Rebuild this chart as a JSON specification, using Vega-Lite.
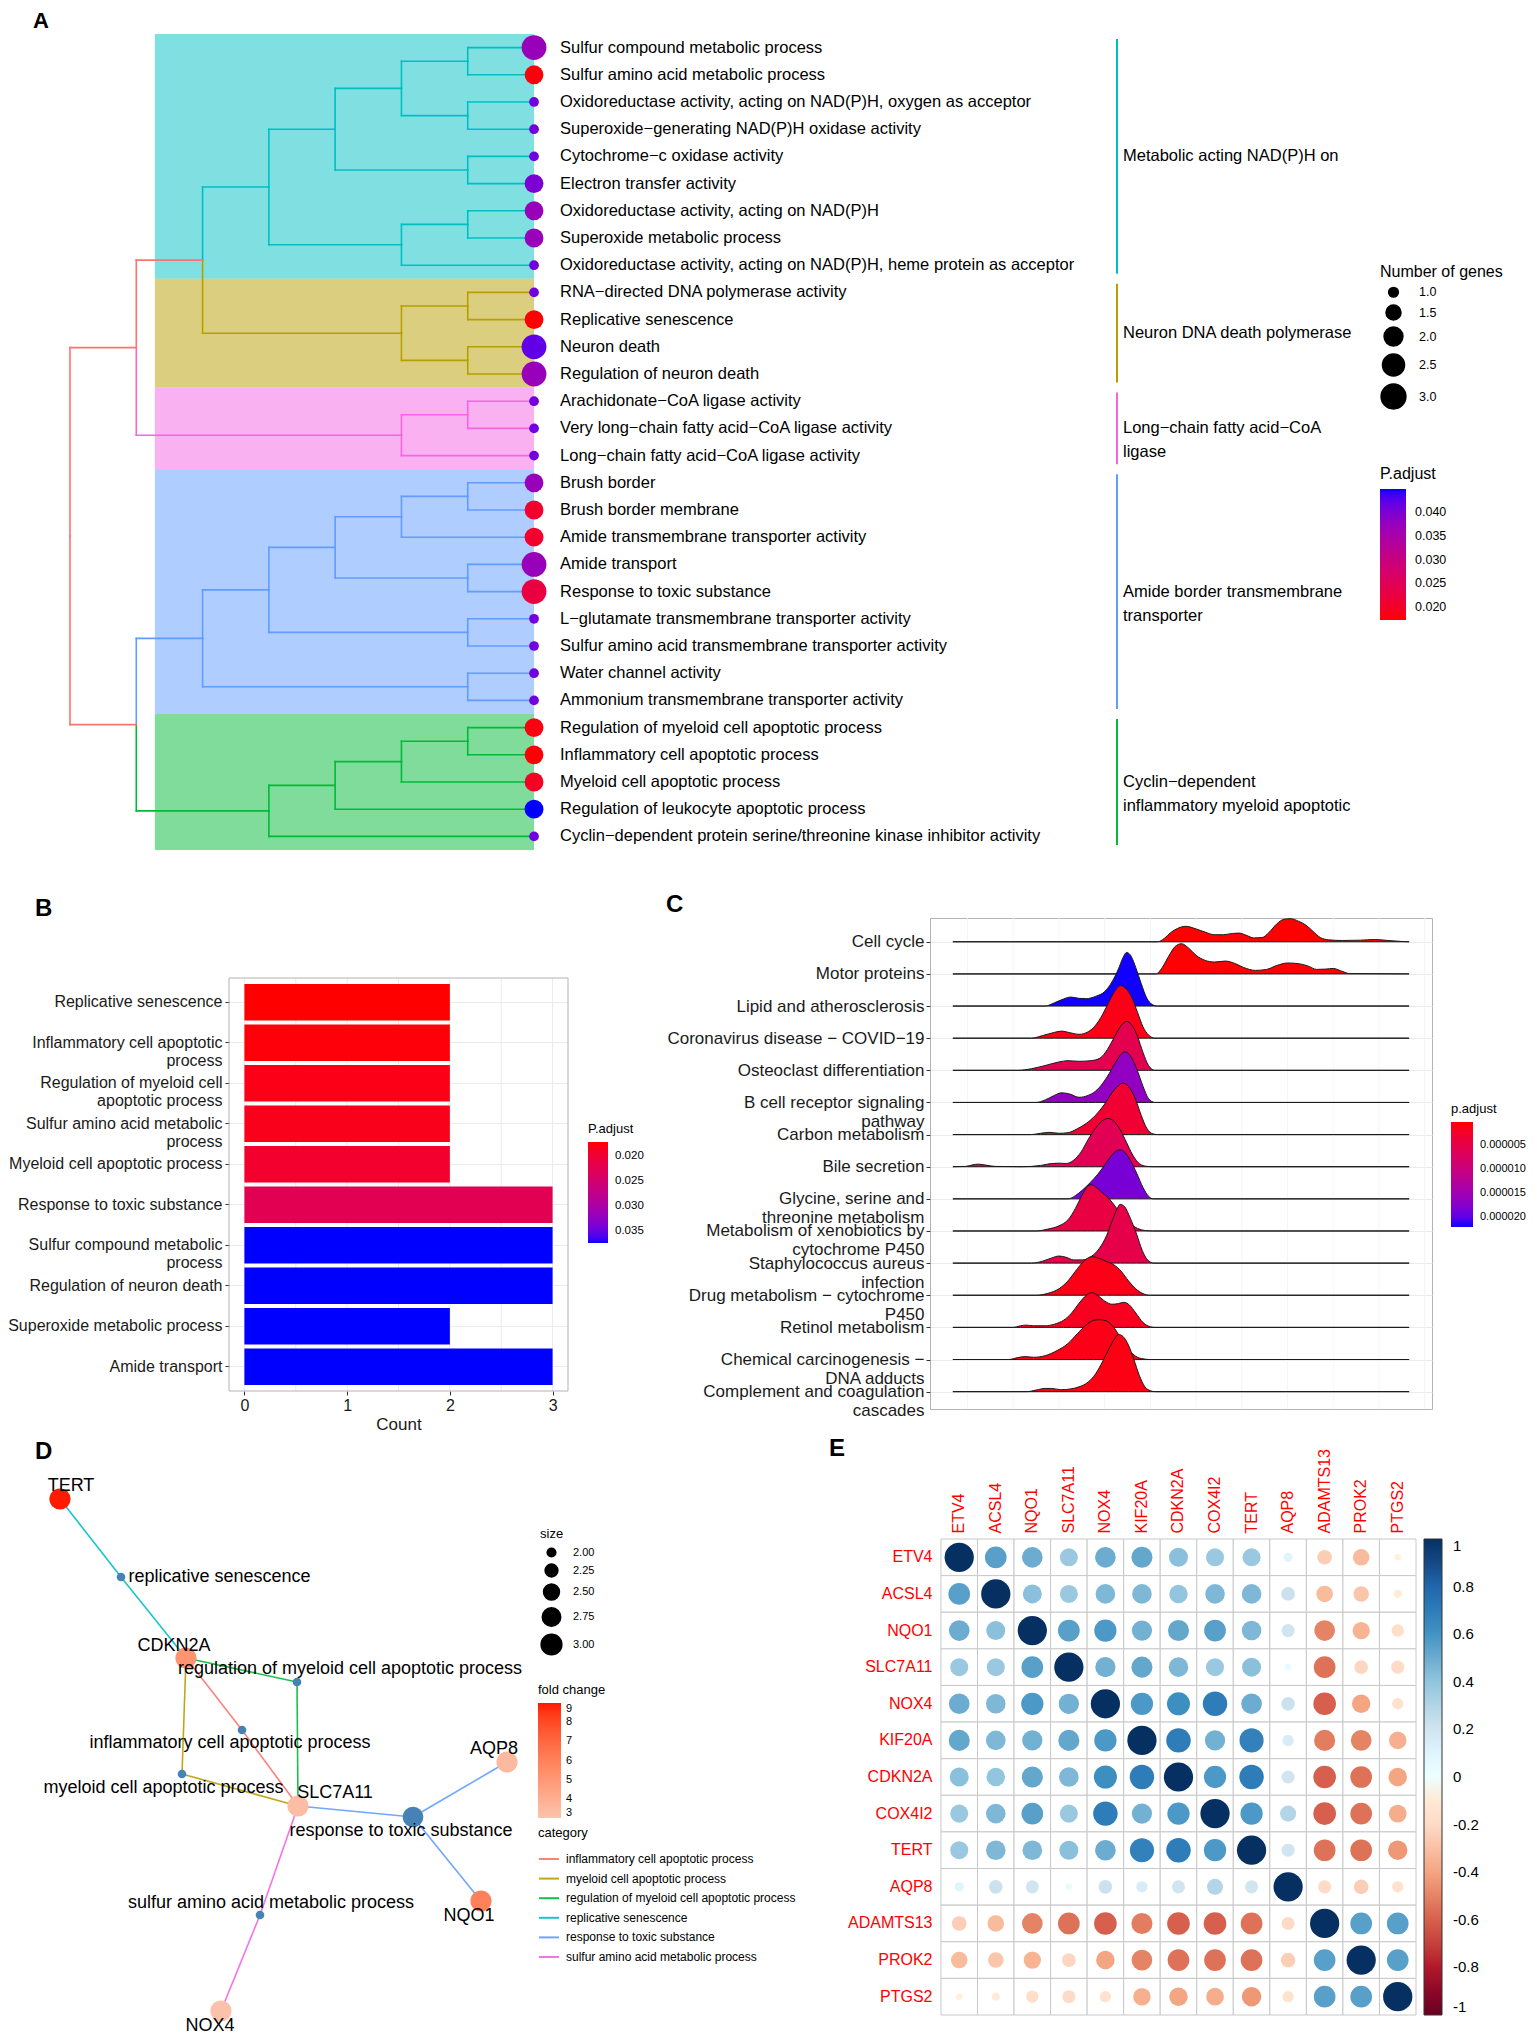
{
"$schema": "https://vega.github.io/schema/vega-lite/v6.json",
"background": "white",
"padding": 0,
"config": {
  "font": "Liberation Sans",
  "view": {"stroke": null},
  "axis": {"labelFont": "Liberation Sans", "titleFont": "Liberation Sans", "titleFontWeight": "normal", "labelColor": "#1a1a1a", "titleColor": "#1a1a1a", "tickColor": "#333333", "gridColor": "#EBEBEB", "domain": false, "labelLimit": 500},
  "legend": {"labelFont": "Liberation Sans", "titleFont": "Liberation Sans", "titleFontWeight": "normal", "labelColor": "black", "titleColor": "black", "labelLimit": 500},
  "title": {"font": "Liberation Sans", "fontWeight": "bold", "color": "black", "anchor": "start", "frame": "group", "baseline": "alphabetic"}
},
"datasets": {
  "terms": [
    {"row":1,"term":"Sulfur compound metabolic process","count":3,"padj":0.037},
    {"row":2,"term":"Sulfur amino acid metabolic process","count":2,"padj":0.0178},
    {"row":3,"term":"Oxidoreductase activity, acting on NAD(P)H, oxygen as acceptor","count":1,"padj":0.041},
    {"row":4,"term":"Superoxide−generating NAD(P)H oxidase activity","count":1,"padj":0.041},
    {"row":5,"term":"Cytochrome−c oxidase activity","count":1,"padj":0.041},
    {"row":6,"term":"Electron transfer activity","count":2,"padj":0.04},
    {"row":7,"term":"Oxidoreductase activity, acting on NAD(P)H","count":2,"padj":0.037},
    {"row":8,"term":"Superoxide metabolic process","count":2,"padj":0.037},
    {"row":9,"term":"Oxidoreductase activity, acting on NAD(P)H, heme protein as acceptor","count":1,"padj":0.041},
    {"row":10,"term":"RNA−directed DNA polymerase activity","count":1,"padj":0.041},
    {"row":11,"term":"Replicative senescence","count":2,"padj":0.0175},
    {"row":12,"term":"Neuron death","count":3,"padj":0.042},
    {"row":13,"term":"Regulation of neuron death","count":3,"padj":0.037},
    {"row":14,"term":"Arachidonate−CoA ligase activity","count":1,"padj":0.041},
    {"row":15,"term":"Very long−chain fatty acid−CoA ligase activity","count":1,"padj":0.041},
    {"row":16,"term":"Long−chain fatty acid−CoA ligase activity","count":1,"padj":0.041},
    {"row":17,"term":"Brush border","count":2,"padj":0.037},
    {"row":18,"term":"Brush border membrane","count":2,"padj":0.0205},
    {"row":19,"term":"Amide transmembrane transporter activity","count":2,"padj":0.0205},
    {"row":20,"term":"Amide transport","count":3,"padj":0.037},
    {"row":21,"term":"Response to toxic substance","count":3,"padj":0.0225},
    {"row":22,"term":"L−glutamate transmembrane transporter activity","count":1,"padj":0.041},
    {"row":23,"term":"Sulfur amino acid transmembrane transporter activity","count":1,"padj":0.041},
    {"row":24,"term":"Water channel activity","count":1,"padj":0.041},
    {"row":25,"term":"Ammonium transmembrane transporter activity","count":1,"padj":0.041},
    {"row":26,"term":"Regulation of myeloid cell apoptotic process","count":2,"padj":0.018},
    {"row":27,"term":"Inflammatory cell apoptotic process","count":2,"padj":0.0175},
    {"row":28,"term":"Myeloid cell apoptotic process","count":2,"padj":0.0195},
    {"row":29,"term":"Regulation of leukocyte apoptotic process","count":2,"padj":0.0448},
    {"row":30,"term":"Cyclin−dependent protein serine/threonine kinase inhibitor activity","count":1,"padj":0.041}
  ],
  "clusters": [
    {"cluster":"c1","from":0.5,"to":9.5,"mid":5,"label":"Metabolic acting NAD(P)H on"},
    {"cluster":"c2","from":9.5,"to":13.5,"mid":11.5,"label":"Neuron DNA death polymerase"},
    {"cluster":"c3","from":13.5,"to":16.5,"mid":15,"label":"Long−chain fatty acid−CoA\nligase"},
    {"cluster":"c4","from":16.5,"to":25.5,"mid":21,"label":"Amide border transmembrane\ntransporter"},
    {"cluster":"c5","from":25.5,"to":30.5,"mid":28,"label":"Cyclin−dependent\ninflammatory myeloid apoptotic"}
  ],
  "edges": [
    {"px":6,"py":1.5,"cx":7,"cy":1,"g":"c1"},{"px":6,"py":1.5,"cx":7,"cy":2,"g":"c1"},
    {"px":6,"py":3.5,"cx":7,"cy":3,"g":"c1"},{"px":6,"py":3.5,"cx":7,"cy":4,"g":"c1"},
    {"px":5,"py":2.5,"cx":6,"cy":1.5,"g":"c1"},{"px":5,"py":2.5,"cx":6,"cy":3.5,"g":"c1"},
    {"px":6,"py":5.5,"cx":7,"cy":5,"g":"c1"},{"px":6,"py":5.5,"cx":7,"cy":6,"g":"c1"},
    {"px":4,"py":4,"cx":5,"cy":2.5,"g":"c1"},{"px":4,"py":4,"cx":6,"cy":5.5,"g":"c1"},
    {"px":6,"py":7.5,"cx":7,"cy":7,"g":"c1"},{"px":6,"py":7.5,"cx":7,"cy":8,"g":"c1"},
    {"px":5,"py":8.25,"cx":6,"cy":7.5,"g":"c1"},{"px":5,"py":8.25,"cx":7,"cy":9,"g":"c1"},
    {"px":3,"py":6.125,"cx":4,"cy":4,"g":"c1"},{"px":3,"py":6.125,"cx":5,"cy":8.25,"g":"c1"},
    {"px":2,"py":8.8125,"cx":3,"cy":6.125,"g":"c1"},
    {"px":2,"py":8.8125,"cx":5,"cy":11.5,"g":"c2"},
    {"px":5,"py":11.5,"cx":6,"cy":10.5,"g":"c2"},{"px":5,"py":11.5,"cx":6,"cy":12.5,"g":"c2"},
    {"px":6,"py":10.5,"cx":7,"cy":10,"g":"c2"},{"px":6,"py":10.5,"cx":7,"cy":11,"g":"c2"},
    {"px":6,"py":12.5,"cx":7,"cy":12,"g":"c2"},{"px":6,"py":12.5,"cx":7,"cy":13,"g":"c2"},
    {"px":1,"py":12.03,"cx":2,"cy":8.8125,"g":"root"},
    {"px":1,"py":12.03,"cx":5,"cy":15.25,"g":"c3"},
    {"px":5,"py":15.25,"cx":6,"cy":14.5,"g":"c3"},{"px":5,"py":15.25,"cx":7,"cy":16,"g":"c3"},
    {"px":6,"py":14.5,"cx":7,"cy":14,"g":"c3"},{"px":6,"py":14.5,"cx":7,"cy":15,"g":"c3"},
    {"px":1,"py":25.89,"cx":2,"cy":22.72,"g":"c4"},
    {"px":2,"py":22.72,"cx":3,"cy":20.9375,"g":"c4"},{"px":2,"py":22.72,"cx":6,"cy":24.5,"g":"c4"},
    {"px":3,"py":20.9375,"cx":4,"cy":19.375,"g":"c4"},{"px":3,"py":20.9375,"cx":6,"cy":22.5,"g":"c4"},
    {"px":4,"py":19.375,"cx":5,"cy":18.25,"g":"c4"},{"px":4,"py":19.375,"cx":6,"cy":20.5,"g":"c4"},
    {"px":5,"py":18.25,"cx":6,"cy":17.5,"g":"c4"},{"px":5,"py":18.25,"cx":7,"cy":19,"g":"c4"},
    {"px":6,"py":17.5,"cx":7,"cy":17,"g":"c4"},{"px":6,"py":17.5,"cx":7,"cy":18,"g":"c4"},
    {"px":6,"py":20.5,"cx":7,"cy":20,"g":"c4"},{"px":6,"py":20.5,"cx":7,"cy":21,"g":"c4"},
    {"px":6,"py":22.5,"cx":7,"cy":22,"g":"c4"},{"px":6,"py":22.5,"cx":7,"cy":23,"g":"c4"},
    {"px":6,"py":24.5,"cx":7,"cy":24,"g":"c4"},{"px":6,"py":24.5,"cx":7,"cy":25,"g":"c4"},
    {"px":1,"py":25.89,"cx":3,"cy":29.06,"g":"c5"},
    {"px":3,"py":29.06,"cx":4,"cy":28.125,"g":"c5"},{"px":3,"py":29.06,"cx":7,"cy":30,"g":"c5"},
    {"px":4,"py":28.125,"cx":5,"cy":27.25,"g":"c5"},{"px":4,"py":28.125,"cx":7,"cy":29,"g":"c5"},
    {"px":5,"py":27.25,"cx":6,"cy":26.5,"g":"c5"},{"px":5,"py":27.25,"cx":7,"cy":28,"g":"c5"},
    {"px":6,"py":26.5,"cx":7,"cy":26,"g":"c5"},{"px":6,"py":26.5,"cx":7,"cy":27,"g":"c5"},
    {"px":0,"py":18.96,"cx":1,"cy":12.03,"g":"root"},{"px":0,"py":18.96,"cx":1,"cy":25.89,"g":"root"}
  ],
  "bars": [
    {"term":"Replicative senescence","count":2,"padj":0.0172},
    {"term":"Inflammatory cell apoptotic process","count":2,"padj":0.0175},
    {"term":"Regulation of myeloid cell apoptotic process","count":2,"padj":0.018},
    {"term":"Sulfur amino acid metabolic process","count":2,"padj":0.0183},
    {"term":"Myeloid cell apoptotic process","count":2,"padj":0.0195},
    {"term":"Response to toxic substance","count":3,"padj":0.0225},
    {"term":"Sulfur compound metabolic process","count":3,"padj":0.0375},
    {"term":"Regulation of neuron death","count":3,"padj":0.0375},
    {"term":"Superoxide metabolic process","count":2,"padj":0.0375},
    {"term":"Amide transport","count":3,"padj":0.0375}
  ],
  "bgrid": [{"v":0},{"v":0.5},{"v":1},{"v":1.5},{"v":2},{"v":2.5},{"v":3}],
  "ridges": [
    {"p":"Cell cycle","base":15,"padj":0.0000001,
     "x":[-2.16,0.08,0.15,0.22,0.3,0.39,0.5,0.6,0.7,0.8,0.9,0.97,1.05,1.13,1.22,1.3,1.38,1.46,1.53,1.62,1.7,1.78,1.86,1.95,2.1,2.3,2.45,2.6,2.75,2.83],
     "y":[15,15,15.1,15.28,15.42,15.48,15.4,15.3,15.22,15.22,15.26,15.27,15.2,15.12,15.13,15.3,15.55,15.7,15.72,15.64,15.52,15.32,15.13,15.06,15.04,15.05,15.07,15.04,15.01,15]},
    {"p":"Motor proteins","base":14,"padj":0.0000002,
     "x":[-2.16,0.06,0.13,0.2,0.27,0.34,0.42,0.5,0.6,0.7,0.82,0.92,1.02,1.15,1.27,1.38,1.5,1.62,1.72,1.82,1.92,2.0,2.08,2.18,2.83],
     "y":[14,14,14.2,14.55,14.85,14.94,14.8,14.58,14.42,14.37,14.4,14.33,14.2,14.11,14.14,14.26,14.34,14.32,14.25,14.14,14.15,14.17,14.1,14.01,14]},
    {"p":"Lipid and atherosclerosis","base":13,"padj":0.000022,
     "x":[-2.16,-1.15,-1.05,-0.95,-0.87,-0.78,-0.7,-0.6,-0.5,-0.42,-0.35,-0.3,-0.26,-0.21,-0.16,-0.1,-0.04,0.02,0.08,2.83],
     "y":[13,13,13.1,13.22,13.28,13.24,13.23,13.3,13.45,13.75,14.15,14.5,14.67,14.55,14.2,13.7,13.25,13.05,13,13]},
    {"p":"Coronavirus disease − COVID−19","base":12,"padj":0.000001,
     "x":[-2.16,-1.3,-1.18,-1.05,-0.97,-0.88,-0.78,-0.68,-0.6,-0.52,-0.45,-0.38,-0.33,-0.27,-0.2,-0.14,-0.08,-0.02,0.05,2.83],
     "y":[12,12,12.08,12.18,12.22,12.17,12.12,12.2,12.4,12.75,13.15,13.5,13.64,13.55,13.25,12.8,12.35,12.1,12,12]},
    {"p":"Osteoclast differentiation","base":11,"padj":0.0000055,
     "x":[-2.16,-1.45,-1.3,-1.15,-1.0,-0.9,-0.78,-0.65,-0.55,-0.47,-0.4,-0.33,-0.26,-0.2,-0.14,-0.08,-0.02,0.05,2.83],
     "y":[11,11,11.05,11.15,11.26,11.3,11.28,11.3,11.38,11.65,12,12.35,12.52,12.4,12.05,11.55,11.15,11,11]},
    {"p":"B cell receptor signaling pathway","base":10,"padj":0.0000165,
     "x":[-2.16,-1.25,-1.15,-1.05,-0.97,-0.88,-0.78,-0.68,-0.6,-0.52,-0.45,-0.38,-0.32,-0.28,-0.22,-0.15,-0.08,-0.02,0.05,2.83],
     "y":[10,10,10.08,10.22,10.3,10.26,10.16,10.22,10.35,10.6,10.9,11.25,11.5,11.58,11.45,11.05,10.5,10.12,10,10]},
    {"p":"Carbon metabolism","base":9,"padj":0.000003,
     "x":[-2.16,-1.3,-1.2,-1.1,-1.0,-0.9,-0.8,-0.7,-0.6,-0.5,-0.42,-0.35,-0.3,-0.24,-0.17,-0.1,-0.04,0.03,0.08,2.83],
     "y":[9,9,9.04,9.07,9.04,9.06,9.18,9.35,9.6,9.95,10.3,10.52,10.6,10.5,10.15,9.6,9.2,9.02,9,9]},
    {"p":"Bile secretion","base":8,"padj":0.000006,
     "x":[-2.16,-2.02,-1.94,-1.88,-1.8,-1.7,-1.4,-1.2,-1.08,-1.0,-0.92,-0.84,-0.76,-0.68,-0.6,-0.53,-0.46,-0.4,-0.33,-0.26,-0.2,-0.14,-0.06,0.02,2.83],
     "y":[8,8.01,8.06,8.08,8.05,8.01,8,8.04,8.1,8.11,8.1,8.2,8.45,8.85,9.2,9.42,9.5,9.42,9.15,8.75,8.4,8.15,8.02,8,8]},
    {"p":"Glycine, serine and threonine metabolism","base":7,"padj":0.0000185,
     "x":[-2.16,-0.9,-0.82,-0.74,-0.66,-0.58,-0.5,-0.43,-0.37,-0.33,-0.28,-0.22,-0.15,-0.08,-0.02,0.03,2.83],
     "y":[7,7,7.1,7.28,7.5,7.75,8.05,8.33,8.5,8.53,8.45,8.2,7.8,7.35,7.08,7,7]},
    {"p":"Metabolism of xenobiotics by cytochrome P450","base":6,"padj":0.0000045,
     "x":[-2.16,-1.25,-1.12,-1.0,-0.9,-0.82,-0.75,-0.69,-0.65,-0.6,-0.53,-0.45,-0.38,-0.3,-0.22,-0.14,-0.05,0.02,2.83],
     "y":[6,6,6.06,6.16,6.35,6.7,7.1,7.38,7.44,7.38,7.2,7,6.75,6.45,6.22,6.08,6.01,6,6]},
    {"p":"Staphylococcus aureus infection","base":5,"padj":0.000005,
     "x":[-2.16,-1.3,-1.18,-1.08,-1.0,-0.92,-0.84,-0.74,-0.64,-0.56,-0.48,-0.42,-0.37,-0.33,-0.28,-0.22,-0.15,-0.09,-0.03,0.04,2.83],
     "y":[5,5,5.06,5.16,5.22,5.18,5.1,5.1,5.22,5.45,5.85,6.3,6.65,6.83,6.75,6.4,5.9,5.4,5.1,5,5]},
    {"p":"Drug metabolism − cytochrome P450","base":4,"padj":0.000001,
     "x":[-2.16,-1.25,-1.12,-1.0,-0.9,-0.8,-0.72,-0.64,-0.56,-0.48,-0.4,-0.32,-0.24,-0.16,-0.08,0.0,2.83],
     "y":[4,4,4.06,4.2,4.45,4.82,5.08,5.2,5.15,5.05,4.95,4.75,4.45,4.2,4.05,4,4]},
    {"p":"Retinol metabolism","base":3,"padj":0.0000015,
     "x":[-2.16,-1.5,-1.42,-1.36,-1.28,-1.15,-1.05,-0.95,-0.86,-0.78,-0.7,-0.64,-0.58,-0.5,-0.42,-0.35,-0.29,-0.23,-0.16,-0.08,0.0,0.05,2.83],
     "y":[3,3,3.05,3.07,3.05,3.05,3.1,3.22,3.45,3.75,4,4.08,4,3.82,3.72,3.74,3.78,3.7,3.45,3.15,3.02,3,3]},
    {"p":"Chemical carcinogenesis − DNA adducts","base":2,"padj":0.000001,
     "x":[-2.16,-1.55,-1.45,-1.37,-1.28,-1.15,-1.02,-0.9,-0.8,-0.7,-0.62,-0.55,-0.48,-0.4,-0.32,-0.24,-0.16,-0.08,0.0,2.83],
     "y":[2,2,2.06,2.09,2.07,2.12,2.28,2.5,2.8,3.08,3.22,3.24,3.2,3,2.65,2.32,2.1,2.02,2,2]},
    {"p":"Complement and coagulation cascades","base":1,"padj":0.0000008,
     "x":[-2.16,-1.35,-1.25,-1.15,-1.08,-0.98,-0.88,-0.78,-0.68,-0.6,-0.52,-0.45,-0.39,-0.35,-0.3,-0.24,-0.18,-0.12,-0.06,0.0,0.05,2.83],
     "y":[1,1,1.05,1.1,1.1,1.06,1.08,1.15,1.3,1.55,1.95,2.35,2.65,2.78,2.72,2.45,2,1.5,1.15,1.03,1,1]}
  ],
  "cgrid": [{"v":-2},{"v":-1.5},{"v":-1},{"v":-0.5},{"v":0},{"v":0.5},{"v":1},{"v":1.5},{"v":2},{"v":2.5},{"v":3}],
  "dnodes": [
    {"id":"TERT","type":"gene","x":6.0,"y":53.8,"lx":7.1,"ly":55.1,"fc":9},
    {"id":"replicative senescence","type":"cat","x":12.1,"y":46.0,"lx":21.95,"ly":46.0,"size":2},
    {"id":"CDKN2A","type":"gene","x":18.6,"y":37.9,"lx":17.4,"ly":39.1,"fc":5.2},
    {"id":"regulation of myeloid cell apoptotic process","type":"cat","x":29.7,"y":35.5,"lx":35.0,"ly":36.8,"size":2},
    {"id":"inflammatory cell apoptotic process","type":"cat","x":24.2,"y":30.7,"lx":23.0,"ly":29.4,"size":2},
    {"id":"myeloid cell apoptotic process","type":"cat","x":18.2,"y":26.3,"lx":16.35,"ly":24.9,"size":2},
    {"id":"SLC7A11","type":"gene","x":29.8,"y":23.1,"lx":33.5,"ly":24.4,"fc":3.3},
    {"id":"response to toxic substance","type":"cat","x":41.3,"y":22.0,"lx":40.1,"ly":20.6,"size":3},
    {"id":"AQP8","type":"gene","x":50.7,"y":27.5,"lx":49.4,"ly":28.8,"fc":3.5},
    {"id":"NQO1","type":"gene","x":48.1,"y":13.6,"lx":46.9,"ly":12.1,"fc":6.0},
    {"id":"sulfur amino acid metabolic process","type":"cat","x":26.0,"y":12.2,"lx":27.1,"ly":13.4,"size":2},
    {"id":"NOX4","type":"gene","x":22.1,"y":2.6,"lx":21.0,"ly":1.1,"fc":3.1}
  ],
  "dedges": [
    {"from":"TERT","to":"replicative senescence","x1":6.0,"y1":53.8,"x2":12.1,"y2":46.0,"category":"replicative senescence"},
    {"from":"CDKN2A","to":"replicative senescence","x1":18.6,"y1":37.9,"x2":12.1,"y2":46.0,"category":"replicative senescence"},
    {"from":"CDKN2A","to":"regulation of myeloid cell apoptotic process","x1":18.6,"y1":37.9,"x2":29.7,"y2":35.5,"category":"regulation of myeloid cell apoptotic process"},
    {"from":"SLC7A11","to":"regulation of myeloid cell apoptotic process","x1":29.8,"y1":23.1,"x2":29.7,"y2":35.5,"category":"regulation of myeloid cell apoptotic process"},
    {"from":"CDKN2A","to":"inflammatory cell apoptotic process","x1":18.6,"y1":37.9,"x2":24.2,"y2":30.7,"category":"inflammatory cell apoptotic process"},
    {"from":"SLC7A11","to":"inflammatory cell apoptotic process","x1":29.8,"y1":23.1,"x2":24.2,"y2":30.7,"category":"inflammatory cell apoptotic process"},
    {"from":"CDKN2A","to":"myeloid cell apoptotic process","x1":18.6,"y1":37.9,"x2":18.2,"y2":26.3,"category":"myeloid cell apoptotic process"},
    {"from":"SLC7A11","to":"myeloid cell apoptotic process","x1":29.8,"y1":23.1,"x2":18.2,"y2":26.3,"category":"myeloid cell apoptotic process"},
    {"from":"SLC7A11","to":"response to toxic substance","x1":29.8,"y1":23.1,"x2":41.3,"y2":22.0,"category":"response to toxic substance"},
    {"from":"AQP8","to":"response to toxic substance","x1":50.7,"y1":27.5,"x2":41.3,"y2":22.0,"category":"response to toxic substance"},
    {"from":"NQO1","to":"response to toxic substance","x1":48.1,"y1":13.6,"x2":41.3,"y2":22.0,"category":"response to toxic substance"},
    {"from":"SLC7A11","to":"sulfur amino acid metabolic process","x1":29.8,"y1":23.1,"x2":26.0,"y2":12.2,"category":"sulfur amino acid metabolic process"},
    {"from":"NOX4","to":"sulfur amino acid metabolic process","x1":22.1,"y1":2.6,"x2":26.0,"y2":12.2,"category":"sulfur amino acid metabolic process"}
  ],
  "corr": [
    {"a":"ETV4","b":["ETV4","ACSL4","NQO1","SLC7A11","NOX4","KIF20A","CDKN2A","COX4I2","TERT","AQP8","ADAMTS13","PROK2","PTGS2"],"r":[1,0.55,0.5,0.38,0.5,0.52,0.42,0.38,0.38,0.1,-0.25,-0.32,-0.05]},
    {"a":"ACSL4","b":["ETV4","ACSL4","NQO1","SLC7A11","NOX4","KIF20A","CDKN2A","COX4I2","TERT","AQP8","ADAMTS13","PROK2","PTGS2"],"r":[0.55,1,0.42,0.38,0.45,0.45,0.4,0.45,0.45,0.22,-0.32,-0.28,-0.08]},
    {"a":"NQO1","b":["ETV4","ACSL4","NQO1","SLC7A11","NOX4","KIF20A","CDKN2A","COX4I2","TERT","AQP8","ADAMTS13","PROK2","PTGS2"],"r":[0.5,0.42,1,0.55,0.58,0.48,0.52,0.55,0.45,0.2,-0.5,-0.35,-0.18]},
    {"a":"SLC7A11","b":["ETV4","ACSL4","NQO1","SLC7A11","NOX4","KIF20A","CDKN2A","COX4I2","TERT","AQP8","ADAMTS13","PROK2","PTGS2"],"r":[0.38,0.38,0.55,1,0.48,0.52,0.45,0.38,0.42,0.05,-0.55,-0.22,-0.2]},
    {"a":"NOX4","b":["ETV4","ACSL4","NQO1","SLC7A11","NOX4","KIF20A","CDKN2A","COX4I2","TERT","AQP8","ADAMTS13","PROK2","PTGS2"],"r":[0.5,0.45,0.58,0.48,1,0.58,0.62,0.7,0.5,0.22,-0.6,-0.4,-0.15]},
    {"a":"KIF20A","b":["ETV4","ACSL4","NQO1","SLC7A11","NOX4","KIF20A","CDKN2A","COX4I2","TERT","AQP8","ADAMTS13","PROK2","PTGS2"],"r":[0.52,0.45,0.48,0.52,0.58,1,0.7,0.48,0.68,0.15,-0.52,-0.5,-0.36]},
    {"a":"CDKN2A","b":["ETV4","ACSL4","NQO1","SLC7A11","NOX4","KIF20A","CDKN2A","COX4I2","TERT","AQP8","ADAMTS13","PROK2","PTGS2"],"r":[0.42,0.4,0.52,0.45,0.62,0.7,1,0.58,0.7,0.2,-0.6,-0.55,-0.4]},
    {"a":"COX4I2","b":["ETV4","ACSL4","NQO1","SLC7A11","NOX4","KIF20A","CDKN2A","COX4I2","TERT","AQP8","ADAMTS13","PROK2","PTGS2"],"r":[0.38,0.45,0.55,0.38,0.7,0.48,0.58,1,0.58,0.3,-0.6,-0.55,-0.37]},
    {"a":"TERT","b":["ETV4","ACSL4","NQO1","SLC7A11","NOX4","KIF20A","CDKN2A","COX4I2","TERT","AQP8","ADAMTS13","PROK2","PTGS2"],"r":[0.38,0.45,0.45,0.42,0.5,0.68,0.7,0.58,1,0.2,-0.55,-0.55,-0.44]},
    {"a":"AQP8","b":["ETV4","ACSL4","NQO1","SLC7A11","NOX4","KIF20A","CDKN2A","COX4I2","TERT","AQP8","ADAMTS13","PROK2","PTGS2"],"r":[0.1,0.22,0.2,0.05,0.22,0.15,0.2,0.3,0.2,1,-0.2,-0.25,-0.15]},
    {"a":"ADAMTS13","b":["ETV4","ACSL4","NQO1","SLC7A11","NOX4","KIF20A","CDKN2A","COX4I2","TERT","AQP8","ADAMTS13","PROK2","PTGS2"],"r":[-0.25,-0.32,-0.5,-0.55,-0.6,-0.52,-0.6,-0.6,-0.55,-0.2,1,0.55,0.55]},
    {"a":"PROK2","b":["ETV4","ACSL4","NQO1","SLC7A11","NOX4","KIF20A","CDKN2A","COX4I2","TERT","AQP8","ADAMTS13","PROK2","PTGS2"],"r":[-0.32,-0.28,-0.35,-0.22,-0.4,-0.5,-0.55,-0.55,-0.55,-0.25,0.55,1,0.55]},
    {"a":"PTGS2","b":["ETV4","ACSL4","NQO1","SLC7A11","NOX4","KIF20A","CDKN2A","COX4I2","TERT","AQP8","ADAMTS13","PROK2","PTGS2"],"r":[-0.05,-0.08,-0.18,-0.2,-0.15,-0.36,-0.4,-0.37,-0.44,-0.15,0.55,0.55,1]}
  ]
},
"columns": 3,
"align": "each",
"bounds": "flush",
"spacing": 0,
"resolve": {
  "scale": {"x": "independent", "y": "independent", "color": "independent", "fill": "independent", "stroke": "independent", "size": "independent"},
  "axis": {"x": "independent", "y": "independent"},
  "legend": {"color": "independent", "fill": "independent", "stroke": "independent", "size": "independent"}
},
"concat": [
  {
    "width": 229, "height": 917,
    "title": {"text": "A", "dx": 33, "offset": -32, "fontSize": 22},
    "layer": [
      {"data": {"name": "clusters"}, "mark": {"type": "rect", "opacity": 0.5},
       "encoding": {
         "x": {"datum": 1.28, "type": "quantitative", "scale": {"domain": [-1.056, 2.3985], "nice": false, "zero": false}, "axis": null},
         "x2": {"datum": 7},
         "y": {"field": "from", "type": "quantitative", "scale": {"domain": [-0.713, 33.0], "reverse": true, "nice": false, "zero": false}, "axis": null},
         "y2": {"field": "to"},
         "color": {"field": "cluster", "type": "nominal", "scale": {"domain": ["c1","c2","c3","c4","c5","root"], "range": ["#00BFC4","#B79F00","#F564E3","#619CFF","#00BA38","#F8766D"]}, "legend": null}
       }},
      {"data": {"name": "edges"}, "mark": {"type": "rule", "strokeWidth": 1.6, "strokeCap": "square"},
       "encoding": {
         "x": {"field": "px", "type": "quantitative", "axis": null},
         "y": {"field": "py", "type": "quantitative", "axis": null},
         "y2": {"field": "cy"},
         "stroke": {"field": "g", "type": "nominal", "scale": {"domain": ["c1","c2","c3","c4","c5","root"], "range": ["#00BFC4","#B79F00","#F564E3","#619CFF","#00BA38","#F8766D"]}, "legend": null}
       }},
      {"data": {"name": "edges"}, "mark": {"type": "rule", "strokeWidth": 1.6, "strokeCap": "square"},
       "encoding": {
         "x": {"field": "px", "type": "quantitative", "axis": null},
         "x2": {"field": "cx"},
         "y": {"field": "cy", "type": "quantitative", "axis": null},
         "stroke": {"field": "g", "type": "nominal", "legend": null}
       }},
      {"data": {"name": "terms"}, "mark": {"type": "circle", "opacity": 1},
       "encoding": {
         "x": {"datum": 7, "type": "quantitative", "axis": null},
         "y": {"field": "row", "type": "quantitative", "axis": null},
         "size": {"field": "count", "type": "quantitative", "scale": {"domain": [1, 3], "range": [95, 615]},
                  "legend": {"title": "Number of genes", "orient": "none", "legendX": 1380, "legendY": 263, "values": [1, 1.5, 2, 2.5, 3], "format": ".1f", "titleFontSize": 16, "labelFontSize": 12.5, "symbolFillColor": "black", "symbolStrokeColor": "black", "symbolOpacity": 1, "labelOffset": 12, "rowPadding": 1, "titlePadding": 6}},
         "fill": {"field": "padj", "type": "quantitative", "scale": {"domain": [0.0173, 0.0448], "range": ["#FF0000", "#0000FF"], "interpolate": "lab"},
                  "legend": {"title": "P.adjust", "orient": "none", "legendX": 1380, "legendY": 465, "direction": "vertical", "gradientLength": 131, "gradientThickness": 26, "values": [0.02, 0.025, 0.03, 0.035, 0.04], "format": ".3f", "titleFontSize": 16, "labelFontSize": 12.5, "labelOffset": 9, "titlePadding": 7}}
       }},
      {"data": {"name": "terms"}, "mark": {"type": "text", "align": "left", "baseline": "middle", "dx": 26, "fontSize": 16.5, "color": "black"},
       "encoding": {
         "x": {"datum": 7, "type": "quantitative", "axis": null},
         "y": {"field": "row", "type": "quantitative", "axis": null},
         "text": {"field": "term"}
       }}
    ]
  },
  {"width": 701, "height": 10, "data": {"values": [{"k": 1}]}, "mark": {"type": "text", "text": ""}, "encoding": {}},
  {
    "width": 187, "height": 917,
    "data": {"name": "clusters"},
    "layer": [
      {"mark": {"type": "rule", "strokeWidth": 2, "yOffset": 5, "y2Offset": -5},
       "encoding": {
         "x": {"value": "width"},
         "y": {"field": "from", "type": "quantitative", "scale": {"domain": [-0.713, 33.0], "reverse": true, "nice": false, "zero": false}, "axis": null},
         "y2": {"field": "to"},
         "color": {"field": "cluster", "type": "nominal", "scale": {"domain": ["c1","c2","c3","c4","c5"], "range": ["#00BFC4","#B79F00","#F564E3","#619CFF","#00BA38"]}, "legend": null}
       }},
      {"mark": {"type": "text", "align": "left", "baseline": "middle", "dx": 6, "fontSize": 16.5, "lineBreak": "\n", "lineHeight": 24, "color": "black"},
       "encoding": {
         "x": {"value": "width"},
         "y": {"field": "mid", "type": "quantitative", "axis": null},
         "text": {"field": "label"}
       }}
    ]
  },
  {"width": 229, "height": 621, "data": {"values": [{"k": 1}]}, "mark": {"type": "text", "text": ""}, "encoding": {},
   "title": {"text": "D", "dx": 35, "offset": -546, "fontSize": 24}},
  {
    "width": 339, "height": 473,
    "layer": [
      {"data": {"name": "bgrid"}, "mark": {"type": "rule", "color": "#EBEBEB", "strokeWidth": 1},
       "encoding": {
         "x": {"field": "v", "type": "quantitative", "scale": {"domain": [-0.15, 3.15], "nice": false, "zero": false}},
         "y": {"value": 60},
         "y2": {"value": "height"}
       }},
      {"data": {"name": "bars"}, "mark": {"type": "bar"},
       "encoding": {
         "y": {"field": "term", "type": "nominal", "sort": null, "scale": {"paddingInner": 0.1, "paddingOuter": 0.891, "align": 0.9158, "round": false},
               "axis": {"title": null, "labelFontSize": 16, "labelLineHeight": 18, "tickSize": 4, "labelPadding": 3, "grid": true, "bandPosition": 0.5,
                        "labelExpr": "datum.label == 'Inflammatory cell apoptotic process' ? ['Inflammatory cell apoptotic', 'process'] : datum.label == 'Regulation of myeloid cell apoptotic process' ? ['Regulation of myeloid cell', 'apoptotic process'] : datum.label == 'Sulfur amino acid metabolic process' ? ['Sulfur amino acid metabolic', 'process'] : datum.label == 'Sulfur compound metabolic process' ? ['Sulfur compound metabolic', 'process'] : datum.label"}},
         "x": {"field": "count", "type": "quantitative",
               "axis": {"values": [0, 1, 2, 3], "format": "d", "title": "Count", "titleFontSize": 17, "labelFontSize": 16, "tickSize": 4, "grid": false, "titlePadding": 3}},
         "fill": {"field": "padj", "type": "quantitative", "scale": {"domain": [0.0375, 0.0172], "range": ["#0000FF", "#FF0000"], "interpolate": "lab"},
                  "legend": {"title": "P.adjust", "orient": "none", "legendX": 359, "legendY": 205, "direction": "vertical", "gradientLength": 101, "gradientThickness": 20, "values": [0.02, 0.025, 0.03, 0.035], "format": ".3f", "titleFontSize": 13, "labelFontSize": 11.5, "labelOffset": 7, "titlePadding": 6}}
       }},
      {"data": {"values": [{"k": 1}]}, "mark": {"type": "rect", "fill": null, "fillOpacity": 0, "stroke": "#B3B3B3", "strokeWidth": 1},
       "encoding": {
         "x": {"value": 0}, "x2": {"value": "width"},
         "y": {"value": 60}, "y2": {"value": "height"}
       }}
    ],
    "title": {"text": "B", "dx": -194, "offset": -3, "fontSize": 24}
  },
  {
    "width": 502, "height": 491,
    "view": {"stroke": "#B3B3B3"},
    "title": {"text": "C", "dx": -264, "offset": 0, "fontSize": 24},
    "layer": [
      {"data": {"name": "cgrid"}, "mark": {"type": "rule", "color": "#F2F2F2", "strokeWidth": 0.8},
       "encoding": {
         "x": {"field": "v", "type": "quantitative", "scale": {"domain": [-2.41, 3.08], "nice": false, "zero": false}, "axis": null}
       }},
      {"data": {"name": "ridges"},
       "transform": [{"flatten": ["x", "y"]}],
       "mark": {"type": "area", "interpolate": "monotone", "stroke": "#1a1a1a", "strokeWidth": 1},
       "encoding": {
         "x": {"field": "x", "type": "quantitative",
               "axis": {"values": [-2, -1, 0, 1, 2, 3], "title": null, "labelFontSize": 15, "tickSize": 4, "grid": true}},
         "y": {"field": "y", "type": "quantitative", "scale": {"domain": [0.46, 15.74], "nice": false, "zero": false},
               "axis": {"values": [1,2,3,4,5,6,7,8,9,10,11,12,13,14,15], "title": null, "labelFontSize": 17, "labelLineHeight": 19, "tickSize": 4, "labelPadding": 2, "grid": true, "labelOverlap": false,
                        "labelExpr": "split(['', 'Complement and coagulation|cascades', 'Chemical carcinogenesis −|DNA adducts', 'Retinol metabolism', 'Drug metabolism − cytochrome|P450', 'Staphylococcus aureus|infection', 'Metabolism of xenobiotics by|cytochrome P450', 'Glycine, serine and|threonine metabolism', 'Bile secretion', 'Carbon metabolism', 'B cell receptor signaling|pathway', 'Osteoclast differentiation', 'Coronavirus disease − COVID−19', 'Lipid and atherosclerosis', 'Motor proteins', 'Cell cycle'][datum.value], '|')"}},
         "y2": {"field": "base"},
         "fill": {"field": "padj", "type": "quantitative", "scale": {"domain": [0.0000221, 0.0000001], "range": ["#0000FF", "#FF0000"], "interpolate": "lab"},
                  "legend": {"title": "p.adjust", "orient": "none", "legendX": 521, "legendY": 185, "direction": "vertical", "gradientLength": 105, "gradientThickness": 22, "values": [0.000005, 0.00001, 0.000015, 0.00002], "format": ".6f", "titleFontSize": 13, "labelFontSize": 11, "labelOffset": 7, "titlePadding": 6}},
         "detail": {"field": "p", "type": "nominal"}
       }}
    ]
  },
  {
    "width": 229, "height": 498,
    "resolve": {"scale": {"color": "independent"}},
    "layer": [
      {"data": {"name": "dedges"},
       "mark": {"type": "rule", "strokeWidth": 1.6, "opacity": 0.9},
       "encoding": {
         "x": {"field": "x1", "type": "quantitative", "scale": {"domain": [0, 22.9], "nice": false, "zero": false}, "axis": null},
         "y": {"field": "y1", "type": "quantitative", "scale": {"domain": [0, 49.8], "nice": false, "zero": false}, "axis": null},
         "x2": {"field": "x2"},
         "y2": {"field": "y2"},
         "color": {"field": "category", "type": "nominal",
                   "scale": {"domain": ["inflammatory cell apoptotic process", "myeloid cell apoptotic process", "regulation of myeloid cell apoptotic process", "replicative senescence", "response to toxic substance", "sulfur amino acid metabolic process"],
                             "range": ["#F8766D", "#B79F00", "#00BA38", "#00BFC4", "#619CFF", "#F564E3"]},
                   "legend": {"title": "category", "orient": "none", "legendX": 538, "legendY": 288, "symbolType": "stroke", "symbolStrokeWidth": 2, "symbolSize": 400, "titleFontSize": 13, "labelFontSize": 12, "labelOffset": 6, "rowPadding": 2.6, "titlePadding": 8}}
       }},
      {"data": {"name": "dnodes"}, "transform": [{"filter": {"field": "type", "equal": "cat"}}],
       "mark": {"type": "circle", "opacity": 1},
       "encoding": {
         "x": {"field": "x", "type": "quantitative", "axis": null},
         "y": {"field": "y", "type": "quantitative", "axis": null},
         "color": {"field": "type", "type": "nominal", "scale": {"domain": ["cat"], "range": ["#4682B4"]}, "legend": null},
         "size": {"field": "size", "type": "quantitative", "scale": {"domain": [2, 3], "range": [75, 430]},
                  "legend": {"title": "size", "orient": "none", "legendX": 540, "legendY": -11, "values": [2, 2.25, 2.5, 2.75, 3], "format": ".2f", "titleFontSize": 13, "labelFontSize": 11, "symbolFillColor": "black", "symbolStrokeColor": "black", "symbolOpacity": 1, "labelOffset": 10, "rowPadding": 1, "titlePadding": 6}}
       }},
      {"data": {"name": "dnodes"}, "transform": [{"filter": {"field": "type", "equal": "gene"}}],
       "mark": {"type": "circle", "opacity": 1, "size": 450},
       "encoding": {
         "x": {"field": "x", "type": "quantitative", "axis": null},
         "y": {"field": "y", "type": "quantitative", "axis": null},
         "fill": {"field": "fc", "type": "quantitative", "scale": {"domain": [3, 9], "range": ["#FBC3AD", "#FF1A00"], "interpolate": "lab"},
                  "legend": {"title": "fold change", "orient": "none", "legendX": 538, "legendY": 145, "direction": "vertical", "gradientLength": 115, "gradientThickness": 23, "values": [3, 4, 5, 6, 7, 8, 9], "titleFontSize": 13, "labelFontSize": 11, "labelOffset": 5, "titlePadding": 6}}
       }},
      {"data": {"name": "dnodes"},
       "mark": {"type": "text", "fontSize": 18, "align": "center", "baseline": "middle", "color": "black"},
       "encoding": {
         "x": {"field": "lx", "type": "quantitative", "axis": null},
         "y": {"field": "ly", "type": "quantitative", "axis": null},
         "text": {"field": "id"}
       }}
    ]
  },
  {"width": 701, "height": 10, "data": {"values": [{"k": 1}]}, "mark": {"type": "text", "text": ""}, "encoding": {},
   "title": {"text": "E", "dx": 600, "offset": 77, "fontSize": 24}},
  {
    "width": 486, "height": 476,
    "data": {"name": "corr"},
    "transform": [{"flatten": ["b", "r"]}],
    "layer": [
      {"mark": {"type": "rect", "fill": "white", "stroke": "#C8C8C8", "strokeWidth": 1},
       "encoding": {
         "x": {"field": "b", "type": "nominal", "sort": ["ETV4","ACSL4","NQO1","SLC7A11","NOX4","KIF20A","CDKN2A","COX4I2","TERT","AQP8","ADAMTS13","PROK2","PTGS2"], "scale": {"paddingInner": 0, "paddingOuter": 0.15, "align": 1, "round": false},
               "axis": {"orient": "top", "labelAngle": -90, "labelAlign": "left", "labelBaseline": "middle", "labelColor": "#FF0000", "labelFontSize": 16, "ticks": false, "domain": false, "title": null, "labelPadding": 6, "grid": false}},
         "y": {"field": "a", "type": "nominal", "sort": ["ETV4","ACSL4","NQO1","SLC7A11","NOX4","KIF20A","CDKN2A","COX4I2","TERT","AQP8","ADAMTS13","PROK2","PTGS2"], "scale": {"paddingInner": 0, "paddingOuter": 0, "round": false},
               "axis": {"labelColor": "#FF0000", "labelFontSize": 16, "ticks": false, "domain": false, "title": null, "labelPadding": -2, "grid": false}}
       }},
      {"mark": {"type": "circle", "opacity": 1},
       "encoding": {
         "x": {"field": "b", "type": "nominal", "sort": ["ETV4","ACSL4","NQO1","SLC7A11","NOX4","KIF20A","CDKN2A","COX4I2","TERT","AQP8","ADAMTS13","PROK2","PTGS2"]},
         "y": {"field": "a", "type": "nominal", "sort": ["ETV4","ACSL4","NQO1","SLC7A11","NOX4","KIF20A","CDKN2A","COX4I2","TERT","AQP8","ADAMTS13","PROK2","PTGS2"]},
         "size": {"field": "r", "type": "quantitative", "scale": {"domain": [-1, 0, 1], "range": [855, 0, 855], "zero": false, "nice": false}, "legend": null},
         "color": {"field": "r", "type": "quantitative",
                   "scale": {"domain": [-1, -0.8, -0.6, -0.4, -0.2, 0, 0.2, 0.4, 0.6, 0.8, 1], "range": ["#67001F","#B2182B","#D6604D","#F4A582","#FDDBC7","#FFFFFF","#D1E5F0","#92C5DE","#4393C3","#2166AC","#053061"]},
                   "legend": {"title": null, "orient": "none", "legendX": 494, "legendY": 0, "direction": "vertical", "gradientLength": 476, "gradientThickness": 18, "values": [-1, -0.8, -0.6, -0.4, -0.2, 0, 0.2, 0.4, 0.6, 0.8, 1], "labelExpr": "toString(datum.value)", "labelFontSize": 15, "labelOffset": 11, "gradientStrokeColor": "#333333", "gradientStrokeWidth": 1}}
       }}
    ]
  }
]
}
